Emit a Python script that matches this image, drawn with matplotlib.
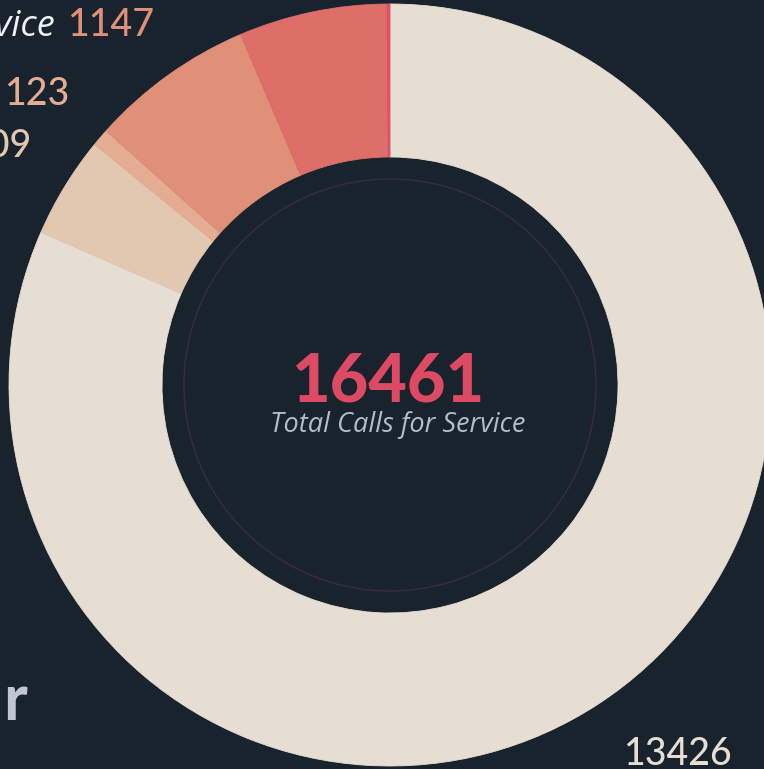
import matplotlib
matplotlib.use("Agg")
import matplotlib.pyplot as plt
from matplotlib.patches import Circle

# ---- data ----
categories = ["Main", "Category E", "Category D", "Calls for Service", "Category B", "Category A"]
values = [13426, 709, 123, 1147, 1036, 20]
colors = ["#e6ded3", "#e2c8b1", "#e4ad93", "#e08f78", "#dd6e68", "#e0506a"]
total_value = sum(values)
center_label = "Total Calls for Service"

BG = "#18232d"
W, H = 764, 769

fig = plt.figure(figsize=(W / 100, H / 100), dpi=100, facecolor=BG)
ax = fig.add_axes([0, 0, 1, 1])
ax.set_facecolor(BG)

cx, cy = 390, H - 385
R = 381
r_in = 228

wedges, _ = ax.pie(values, colors=colors, startangle=90, counterclock=False,
                   center=(cx, cy), radius=R,
                   wedgeprops=dict(width=R - r_in, linewidth=0, antialiased=True))
for w, c in zip(wedges, colors):
    w.set_edgecolor(c)
    w.set_linewidth(0.6)

# thin decorative ring inside the hole
ax.add_patch(Circle((cx, cy), 206, fill=False, edgecolor="#3b2b3c", linewidth=1.0))

# center texts
ax.text(388, H - 402, f"{total_value}", ha="center", va="baseline",
        fontsize=48, fontweight=900, family=["Lato", "DejaVu Sans"], color="#dc4a64")
ax.text(398, H - 432, center_label, ha="center", va="baseline",
        fontsize=19.5, style="italic", family=["Open Sans", "DejaVu Sans"], color="#b3bccb")

# outside labels
num_font = dict(fontsize=27, fontweight="medium", family=["Lato", "DejaVu Sans"])
ax.text(55, H - 36, "Calls for Service", ha="right", va="baseline",
        fontsize=26, style="italic", family=["Open Sans", "DejaVu Sans"], color="#eef0f4")
ax.text(67, H - 36, f"{values[3]}", ha="left", va="baseline", color=colors[3], **num_font)
ax.text(69, H - 105, f"{values[2]}", ha="right", va="baseline", color=colors[2], **num_font)
ax.text(31, H - 157, f"{values[1]}", ha="right", va="baseline", color=colors[1], **num_font)
ax.text(732, H - 765, f"{values[0]}", ha="right", va="baseline", color=colors[0], **num_font)
ax.text(27, H - 720, "r", ha="right", va="baseline",
        fontsize=46, fontweight="bold", family=["Lato", "DejaVu Sans"], color="#c0c6d2")

ax.set_xlim(0, W)
ax.set_ylim(0, H)
ax.set_aspect("auto")
ax.axis("off")

fig.savefig("out.png", dpi=100, facecolor=BG)
